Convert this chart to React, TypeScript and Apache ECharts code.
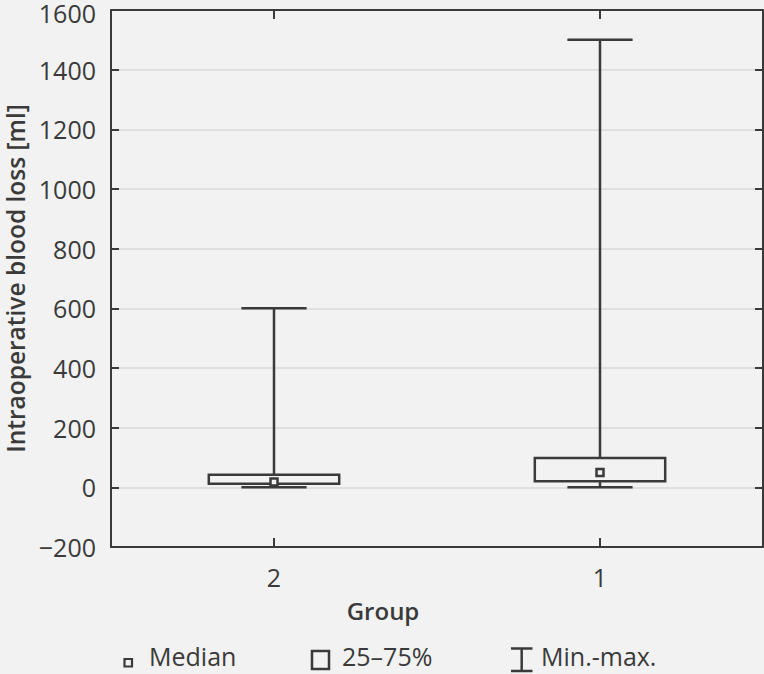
import React, { useEffect, useRef } from "react";
import * as echarts from "echarts";

const categories = ["2", "1"];
const minValues = [0, 0];
const q1Values = [12, 20];
const medianValues = [18, 50];
const q3Values = [42, 98];
const maxValues = [600, 1500];

const yMin = -200;
const yMax = 1600;
const yInterval = 200;

const BG = "#f1f2f1";
const INK = "#3a3a3a";
const FONT = "'Open Sans', sans-serif";

export default function App() {
  const ref = useRef<HTMLDivElement>(null);

  useEffect(() => {
    document.body.style.margin = "0";
    document.body.style.background = BG;
    if (!ref.current) return;
    const chart = echarts.init(ref.current, undefined, { renderer: "svg" });

    const whiskerData = categories.map((_, i) => [i, minValues[i], maxValues[i]]);
    const boxData = categories.map((_, i) => [i, q1Values[i], q3Values[i]]);
    const medianData = categories.map((_, i) => [i, medianValues[i]]);

    const axisLine = { show: true, onZero: false, lineStyle: { color: INK, width: 2 } };
    const tickInside = { show: true, inside: true, length: 8, lineStyle: { color: INK, width: 2 } };

    chart.setOption({
      animation: false,
      backgroundColor: BG,
      textStyle: { fontFamily: FONT },
      grid: {
        left: 111,
        right: 1,
        top: 10,
        bottom: 127,
        containLabel: false,
        outerBoundsMode: "none",
      },
      xAxis: [
        {
          type: "category",
          data: categories,
          position: "bottom",
          axisLine,
          axisTick: { ...tickInside, alignWithLabel: true, length: 9 },
          axisLabel: { color: INK, fontSize: 25, fontFamily: FONT, margin: 17 },
          splitLine: { show: false },
        },
        {
          type: "category",
          data: categories,
          position: "top",
          axisLine,
          axisTick: { ...tickInside, alignWithLabel: true, length: 9 },
          axisLabel: { show: false },
          splitLine: { show: false },
        },
      ],
      yAxis: [
        {
          type: "value",
          min: yMin,
          max: yMax,
          interval: yInterval,
          position: "left",
          axisLine,
          axisTick: tickInside,
          axisLabel: {
            color: INK,
            fontSize: 25,
            lineHeight: 20,
            fontFamily: FONT,
            margin: 15,
            formatter: (v: number) =>
              v === yMax ? "{top|" + v + "}" : v < 0 ? "\u2212" + Math.abs(v) : String(v),
            rich: {
              top: { fontSize: 25, lineHeight: 20, fontFamily: FONT, color: INK, padding: [5, 0, 0, 0] },
            },
          },
          splitLine: { show: true, lineStyle: { color: "#d8d9d8", width: 1.5 } },
          name: "Intraoperative blood loss [ml]",
          nameLocation: "middle",
          nameGap: 84,
          nameTextStyle: { color: INK, fontSize: 24.5, lineHeight: 22, fontWeight: 600, fontFamily: FONT },
        },
        {
          type: "value",
          min: yMin,
          max: yMax,
          interval: yInterval,
          position: "right",
          axisLine,
          axisTick: tickInside,
          axisLabel: { show: false },
          splitLine: { show: false },
        },
      ],
      series: [
        {
          name: "Min.-max.",
          type: "custom",
          data: whiskerData,
          encode: { x: 0, y: [1, 2] },
          z: 2,
          renderItem: (params: any, api: any) => {
            const i = api.value(0);
            const lo = api.coord([i, api.value(1)]);
            const hi = api.coord([i, api.value(2)]);
            const band = api.size([1, 0])[0];
            const cap = (band * 0.2) / 2;
            const st = { stroke: INK, lineWidth: 2.5 };
            return {
              type: "group",
              children: [
                { type: "line", shape: { x1: lo[0], y1: lo[1], x2: hi[0], y2: hi[1] }, style: st },
                { type: "line", shape: { x1: hi[0] - cap, y1: hi[1], x2: hi[0] + cap, y2: hi[1] }, style: st },
                { type: "line", shape: { x1: lo[0] - cap, y1: lo[1], x2: lo[0] + cap, y2: lo[1] }, style: st },
              ],
            };
          },
        },
        {
          name: "25–75%",
          type: "custom",
          data: boxData,
          encode: { x: 0, y: [1, 2] },
          z: 3,
          renderItem: (params: any, api: any) => {
            const i = api.value(0);
            const lo = api.coord([i, api.value(1)]);
            const hi = api.coord([i, api.value(2)]);
            const band = api.size([1, 0])[0];
            const w = band * 0.4;
            return {
              type: "rect",
              shape: { x: lo[0] - w / 2, y: hi[1], width: w, height: lo[1] - hi[1] },
              style: { fill: BG, stroke: INK, lineWidth: 2.5 },
            };
          },
        },
        {
          name: "Median",
          type: "custom",
          data: medianData,
          encode: { x: 0, y: 1 },
          z: 4,
          renderItem: (params: any, api: any) => {
            const i = api.value(0);
            const p = api.coord([i, api.value(1)]);
            const s = 7;
            return {
              type: "rect",
              shape: { x: p[0] - s / 2, y: p[1] - s / 2, width: s, height: s },
              style: { fill: BG, stroke: INK, lineWidth: 2.5 },
            };
          },
        },
      ],
      graphic: [
        {
          type: "text",
          x: 383,
          y: 610,
          style: { text: "Group", fill: INK, font: `600 24px ${FONT}`, align: "center", verticalAlign: "middle" },
        },
        {
          type: "rect",
          shape: { x: 124.5, y: 659, width: 7.5, height: 7.5 },
          style: { fill: "none", stroke: INK, lineWidth: 2.2 },
        },
        {
          type: "text",
          x: 149,
          y: 656,
          style: { text: "Median", fill: INK, font: `25px ${FONT}`, lineHeight: 24, verticalAlign: "middle" },
        },
        {
          type: "rect",
          shape: { x: 312, y: 651, width: 17, height: 18 },
          style: { fill: "none", stroke: INK, lineWidth: 2.5 },
        },
        {
          type: "text",
          x: 342,
          y: 656,
          style: { text: "25–75%", fill: INK, font: `25px ${FONT}`, lineHeight: 24, verticalAlign: "middle" },
        },
        {
          type: "line",
          shape: { x1: 511, y1: 648.5, x2: 532.5, y2: 648.5 },
          style: { stroke: INK, lineWidth: 2.5 },
        },
        {
          type: "line",
          shape: { x1: 521.7, y1: 648.5, x2: 521.7, y2: 671 },
          style: { stroke: INK, lineWidth: 2.5 },
        },
        {
          type: "line",
          shape: { x1: 511, y1: 671, x2: 532.5, y2: 671 },
          style: { stroke: INK, lineWidth: 2.5 },
        },
        {
          type: "text",
          x: 541,
          y: 656,
          style: { text: "Min.-max.", fill: INK, font: `25px ${FONT}`, lineHeight: 24, verticalAlign: "middle" },
        },
      ],
    });

    return () => chart.dispose();
  }, []);

  return (
    <div
      ref={ref}
      style={{ position: "absolute", left: 0, top: 0, width: 764, height: 674, background: BG }}
    />
  );
}
